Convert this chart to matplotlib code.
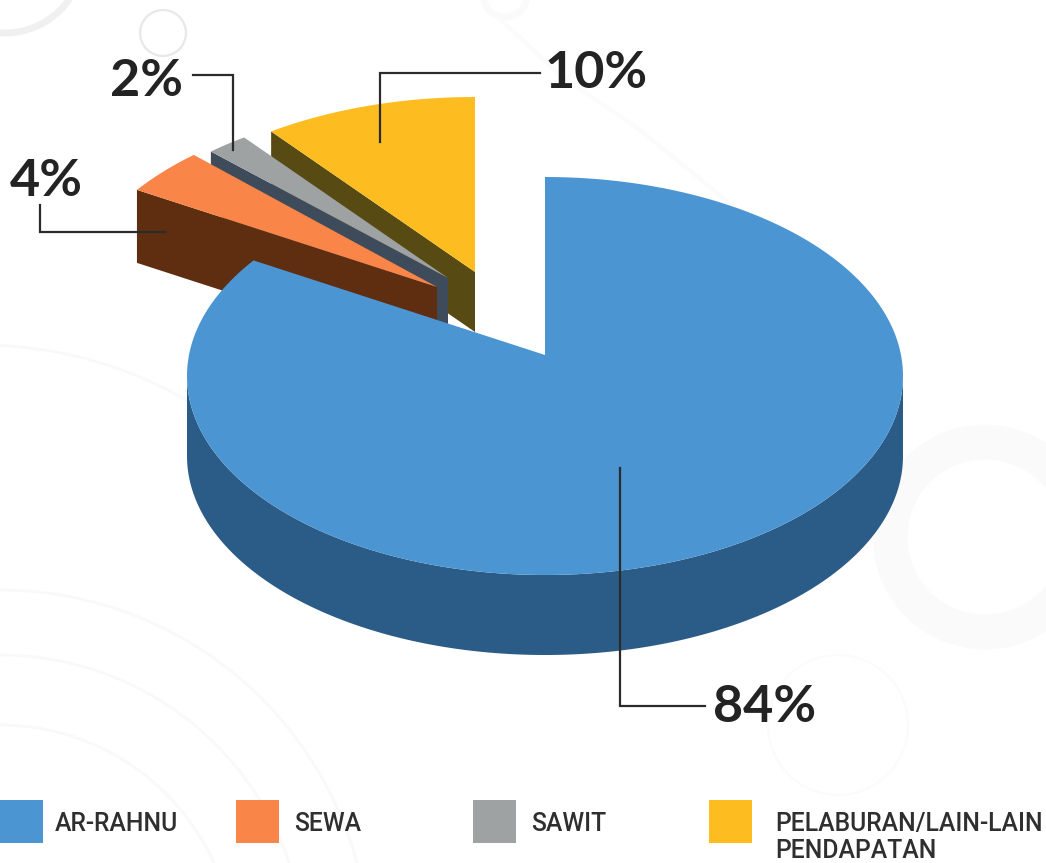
import numpy as np
import matplotlib
matplotlib.use("Agg")
import matplotlib.pyplot as plt
from matplotlib.patches import Polygon, Rectangle, Circle, Arc

# data
labels = ["AR-RAHNU", "SEWA", "SAWIT", "PELABURAN/LAIN-LAIN\nPENDAPATAN"]
shares = [84, 4, 2, 10]

top_colors = ["#4b95d2", "#f98548", "#9ea2a3", "#fdbd20"]
wall_colors = ["#2b5c87", "#5f2e10", "#3d4b5a", "#574a12"]

# slice geometry in pixels: apex x, apex y, radius x, radius y, depth
slice_geom = [
    (545, 355, 358, 199, 80),
    (437, 287, 368, 204, 73),
    (448, 278, 360, 196, 60),
    (475, 272, 360, 196, 60),
]
APEX_DROP = 21
SQUASH = 0.92


def arc_points(geom, start, end, n=120):
    # ellipse rim seen from an apex that sits above the ellipse centre
    x0, y0, rx, ry, _ = geom
    th = np.radians(np.linspace(start, end, n))
    k = APEX_DROP / ry
    c = np.cos(th)
    s = SQUASH * np.sin(th)
    a = c**2 + s**2
    t = (-s * k + np.sqrt(s**2 * k**2 - a * (k**2 - 1))) / a
    return x0 + rx * c * t, y0 - ry * s * t


fig = plt.figure(figsize=(10.46, 8.63), dpi=100)
ax = fig.add_axes([0, 0, 1, 1])
ax.set_xlim(0, 1046)
ax.set_ylim(863, 0)
ax.axis("off")

# faint background rings
ax.add_patch(Circle((163, 33), 23, fill=False, ec="#e8e8e8", lw=1.6))
ax.add_patch(Circle((5, -45), 78, fill=False, ec="#f0f0f0", lw=5))
ax.add_patch(Circle((985, 537), 95, fill=False, ec="#fafafa", lw=25))
ax.add_patch(Circle((838, 725), 70, fill=False, ec="#fbfbfb", lw=1.5))
ax.add_patch(Circle((505, -5), 22, fill=False, ec="#fafafa", lw=5))
ax.plot([490, 560, 640, 750], [10, 75, 130, 220], color="#fbfbfb", lw=3, zorder=0)
for cy, r in [(960, 370), (960, 305), (960, 235)]:
    ax.add_patch(Arc((0, cy), 2 * r, 2 * r, theta1=270, theta2=360, ec="#f9f9f9", lw=2))
ax.add_patch(Arc((-20, 760), 830, 830, theta1=270, theta2=310, ec="#f9f9f9", lw=2))

# pie slices, going clockwise from twelve o'clock
angles = 90 - np.cumsum([0] + shares) * 3.6
for i in [3, 2, 1]:
    geom = slice_geom[i]
    start, end = angles[i + 1] + 360, angles[i] + 360
    x0, y0, depth = geom[0], geom[1], geom[4]
    xs, ys = arc_points(geom, start, end)
    # radial side wall on the lower edge
    wall = [(x0, y0), (xs[-1], ys[-1]), (xs[-1], ys[-1] + depth), (x0, y0 + depth)]
    ax.add_patch(Polygon(wall, fc=wall_colors[i], ec="none"))
    ax.add_patch(Polygon(np.column_stack([np.r_[x0, xs], np.r_[y0, ys]]), fc=top_colors[i], ec="none"))

# the big slice goes last so it hides the tips of the others
geom = slice_geom[0]
xw, yw = arc_points(geom, 150, 390, 600)
lo, hi = np.argmin(xw), np.argmax(xw)
xw, yw = xw[lo:hi + 1], yw[lo:hi + 1]
ax.add_patch(Polygon(np.column_stack([np.r_[xw, xw[::-1]], np.r_[yw, yw[::-1] + geom[4]]]),
                     fc=wall_colors[0], ec="none"))
xs, ys = arc_points(geom, angles[1], angles[0], 300)
ax.add_patch(Polygon(np.column_stack([np.r_[geom[0], xs], np.r_[geom[1], ys]]), fc=top_colors[0], ec="none"))

# leader lines and value labels
leader_x = [[620, 620, 705], [40, 40, 165], [193, 233, 233], [540, 380, 380]]
leader_y = [[468, 706, 706], [205, 232, 232], [75, 75, 150], [73, 73, 142]]
value_x = [765, 46, 146, 596]
value_y = [707, 181, 81, 73]
for i, share in enumerate(shares):
    ax.plot(leader_x[i], leader_y[i], color="#2b2b2b", lw=1.6, solid_joinstyle="miter")
    ax.text(value_x[i], value_y[i], f"{share}%", ha="center", va="center",
            family="Lato", fontweight="bold", fontsize=37.5, color="#232323")

# legend
swatch_x = [0, 236, 473, 709]
text_x = [55, 294, 531, 775]
for i, label in enumerate(labels):
    ax.add_patch(Rectangle((swatch_x[i], 800), 43, 43, fc=top_colors[i], ec="none"))
    ax.text(text_x[i], 812, label, ha="left", va="top", family="Roboto", fontweight="medium",
            fontsize=17.8, color="#2f2f2f", linespacing=1.15)

fig.savefig("out.png", dpi=100)
